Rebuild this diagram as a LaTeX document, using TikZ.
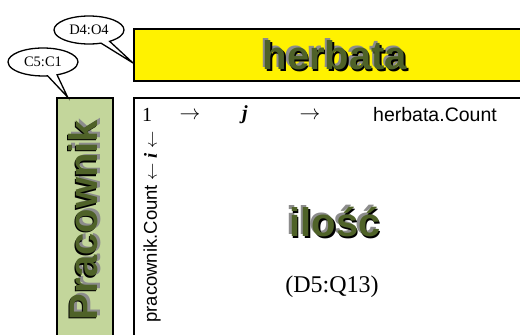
\documentclass[tikz,border=0pt]{standalone}
\usepackage{fontspec}
\setmainfont{Liberation Serif}
\newfontfamily\arial{Liberation Sans}
\usetikzlibrary{shapes.callouts,calc}
\definecolor{olivetxt}{HTML}{4F6228}
\definecolor{greenbox}{HTML}{C3D69B}
\definecolor{shgray}{HTML}{8C8C8C}
% shadowed word: #1 gray dx, #2 gray dy, #3 black dx, #4 black dy, #5 text
\newcommand\shword[5]{\leavevmode\rlap{\kern#1pt\raisebox{#2pt}{\color{shgray}#5}}\rlap{\kern#3pt\raisebox{#4pt}{\color{black}#5}}{\color{olivetxt}#5}}
\begin{document}
\begin{tikzpicture}[x=1pt,y=-1pt,
  boxstyle/.style={draw=black,line width=1.8pt,inner sep=0pt,anchor=north west},
  bigtxt/.style={inner sep=0pt,font=\arial\bfseries\fontsize{40}{40}\selectfont},
  tabtxt/.style={inner sep=0pt,font=\fontsize{20}{20}\selectfont},
  sanstxt/.style={inner sep=0pt,font=\arial\fontsize{19.5}{20}\selectfont},
  bubble/.style={ellipse callout,draw=black,line width=1.3pt,fill=white,inner sep=0pt,
    minimum width=70pt,minimum height=28pt,callout pointer arc=16,font=\fontsize{14.5}{15}\selectfont}]
\useasboundingbox (0,0) rectangle (520,335);
\clip (0,0) rectangle (520,335);

% boxes
\node[boxstyle,fill=yellow,minimum width=400pt,minimum height=52pt] (herbbox) at (133,28) {};
\node[boxstyle,fill=greenbox,minimum width=56pt,minimum height=260pt] (pracbox) at (56,97) {};
\node[boxstyle,fill=white,minimum width=400pt,minimum height=260pt] (mainbox) at (133,97) {};

% big titles
\node[bigtxt] (herbtxt) at (335,55) {\shword{-2.5}{2}{1.5}{-1.5}{herbata}};
\node[bigtxt,rotate=90] (practxt) at (84,220) {\shword{1.5}{-2.5}{-1.5}{1.5}{Pracownik}};
\node[bigtxt] (ilosc) at (335,222) {\shword{-2.5}{2}{1.5}{-1.5}{ilość}};

% top row of the matrix
\node[tabtxt] (one) at (147,115) {1};
\node[tabtxt] (arr1) at (190,116) {$\rightarrow$};
\node[tabtxt] (jj) at (245,115) {\textbf{\textit{j}}};
\node[tabtxt] (arr2) at (310,116) {$\rightarrow$};
\node[sanstxt] (hcount) at (435,115) {herbata.Count};

% left column of the matrix
\node[inner sep=0pt,rotate=90,font=\fontsize{18.5}{18.5}\selectfont] (pcount) at (152,227)
  {{\arial pracownik.Count} $\leftarrow$ \textbf{\textit{i}} $\leftarrow$};

% range
\node[inner sep=0pt,font=\fontsize{24}{24}\selectfont] (range) at (332,287) {(D5:Q13)};

% callouts
\node[bubble,callout absolute pointer={($(herbbox.north west)!0.65!(herbbox.south west)$)}] (cd4) at (89,30) {D4:O4};
\node[bubble,callout absolute pointer={($(pracbox.north west)!0.2!(pracbox.north east)$)}] (cc5) at (43,62) {C5:C1};
\end{tikzpicture}
\end{document}
